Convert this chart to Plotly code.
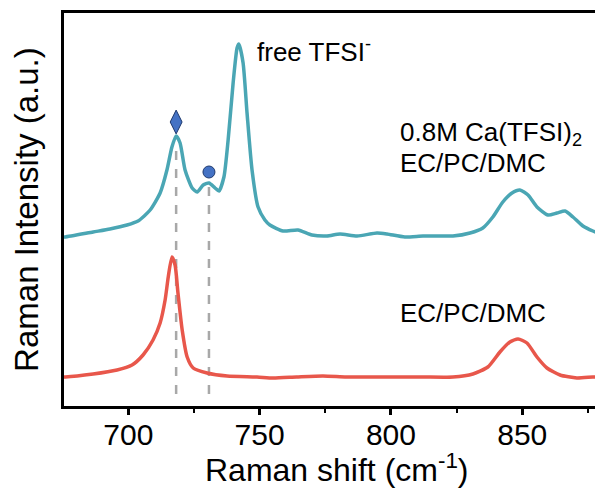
import plotly.graph_objects as go

# Raman shift (cm^-1) and intensity (a.u.)
salt_x = [675.5, 676.0, 686.6, 693.0, 699.5, 703.7, 708.3, 712.1, 714.7, 716.6, 718.2, 719.7, 721.6,
          724.3, 726.2, 728.5, 730.7, 733.0, 734.5, 736.4, 738.0, 739.9, 741.4, 742.1, 743.7,
          745.2, 747.1, 749.4, 752.0, 753.9, 758.9, 764.6, 769.9, 775.6, 780.6, 787.1, 794.7,
          798.5, 805.3, 812.2, 818.7, 823.6, 830.1, 835.0, 838.8, 842.6, 846.1, 849.1, 852.2,
          855.6, 859.8, 863.2, 866.3, 869.3, 873.1, 876.9, 879.0]
salt_y = [169, 169, 174, 177, 181, 185, 196, 213, 236, 259, 270, 263, 236,
          218, 214, 221, 223, 218, 215, 229, 266, 323, 358, 362, 343,
          293, 236, 199, 186, 181, 175, 176, 171, 170, 172, 170, 173,
          172, 169, 170, 170, 170, 173, 178, 189, 204, 213, 216, 211,
          199, 191, 193, 195, 189, 180, 175, 173]

solv_x = [675.5, 676.0, 686.6, 695.7, 701.4, 705.6, 709.4, 712.1, 714.0, 715.2, 716.6, 717.8, 718.9,
          720.5, 722.4, 724.7, 730.0, 737.6, 749.0, 755.1, 764.0, 774.1, 783.0, 793.1, 803.0,
          812.2, 823.6, 831.2, 836.9, 841.5, 845.3, 848.4, 851.8, 855.6, 859.4, 864.4, 870.8,
          876.9, 879.0]
solv_y = [29, 29, 32, 36, 41, 51, 66, 83, 106, 129, 149, 141, 113,
          76, 49, 38, 33, 30, 29, 28, 29, 30, 29, 29, 29,
          29, 29, 32, 39, 54, 64, 67, 63, 49, 38, 31, 28,
          29, 29]

# marker / guide positions
guide_x = [718.2, 730.7]
guide_top = [261, 221]
guide_bottom = 12
diamond_pt = (718.2, 284)
circle_pt = (730.7, 234)

teal = "#4AA6B4"
red = "#E8574B"
font = "Liberation Sans, Arial, sans-serif"

fig = go.Figure()

for gx, gt in zip(guide_x, guide_top):
    fig.add_trace(go.Scatter(x=[gx, gx], y=[guide_bottom, gt], mode="lines",
                             line=dict(color="#A8A8A8", width=2.5, dash="dash"),
                             showlegend=False, hoverinfo="skip"))

fig.add_trace(go.Scatter(x=salt_x, y=salt_y, mode="lines",
                         line=dict(color=teal, width=3.5, shape="spline", smoothing=0.6),
                         showlegend=False))
fig.add_trace(go.Scatter(x=solv_x, y=solv_y, mode="lines",
                         line=dict(color=red, width=3.5, shape="spline", smoothing=0.6),
                         showlegend=False))

fig.add_trace(go.Scatter(x=[diamond_pt[0]], y=[diamond_pt[1]], mode="markers",
                         marker=dict(symbol="diamond-tall", size=17, color="#4472C4",
                                     line=dict(color="#1F3A6E", width=1)),
                         showlegend=False))
fig.add_trace(go.Scatter(x=[circle_pt[0]], y=[circle_pt[1]], mode="markers",
                         marker=dict(symbol="circle", size=12, color="#4472C4",
                                     line=dict(color="#1F3A6E", width=1)),
                         showlegend=False))

ann_font = dict(family=font, size=26, color="black")
fig.add_annotation(x=748.2, y=356, xref="x", yref="y", text="free TFSI<sup>-</sup>",
                   showarrow=False, xanchor="left", yanchor="middle", font=ann_font)
fig.add_annotation(x=802.6, y=273, xref="x", yref="y", text="0.8M Ca(TFSI)<sub>2</sub>",
                   showarrow=False, xanchor="left", yanchor="middle", font=ann_font)
fig.add_annotation(x=802.6, y=243, xref="x", yref="y", text="EC/PC/DMC",
                   showarrow=False, xanchor="left", yanchor="middle", font=ann_font)
fig.add_annotation(x=802.6, y=93, xref="x", yref="y", text="EC/PC/DMC",
                   showarrow=False, xanchor="left", yanchor="middle", font=ann_font)

fig.add_annotation(x=0.514, y=0, xref="paper", yref="paper", yshift=-62,
                   text="Raman shift (cm<sup>-1</sup>)", showarrow=False,
                   xanchor="center", yanchor="middle", font=dict(family=font, size=32, color="black"))
fig.add_annotation(x=0, y=0.499, xref="paper", yref="paper", xshift=-37,
                   text="Raman Intensity (a.u.)", textangle=-90, showarrow=False,
                   xanchor="center", yanchor="middle", font=dict(family=font, size=33, color="black"))

fig.update_layout(
    width=595, height=490,
    margin=dict(l=64, r=0, t=13, b=84),
    plot_bgcolor="white", paper_bgcolor="white",
    xaxis=dict(range=[675.5, 877.7], showgrid=False, zeroline=False,
               showline=True, linewidth=3, linecolor="black", mirror=True,
               ticks="outside", ticklen=6, tickwidth=2.5, tickcolor="black",
               tick0=700, dtick=50, ticklabelstandoff=-6,
               minor=dict(ticks="outside", ticklen=4, tickwidth=2, tickcolor="black", dtick=25, tick0=675),
               tickfont=dict(family=font, size=30, color="black")),
    yaxis=dict(range=[0, 393], showgrid=False, zeroline=False,
               showline=True, linewidth=3, linecolor="black",
               showticklabels=False, ticks=""),
)

fig.write_html("out.html")
